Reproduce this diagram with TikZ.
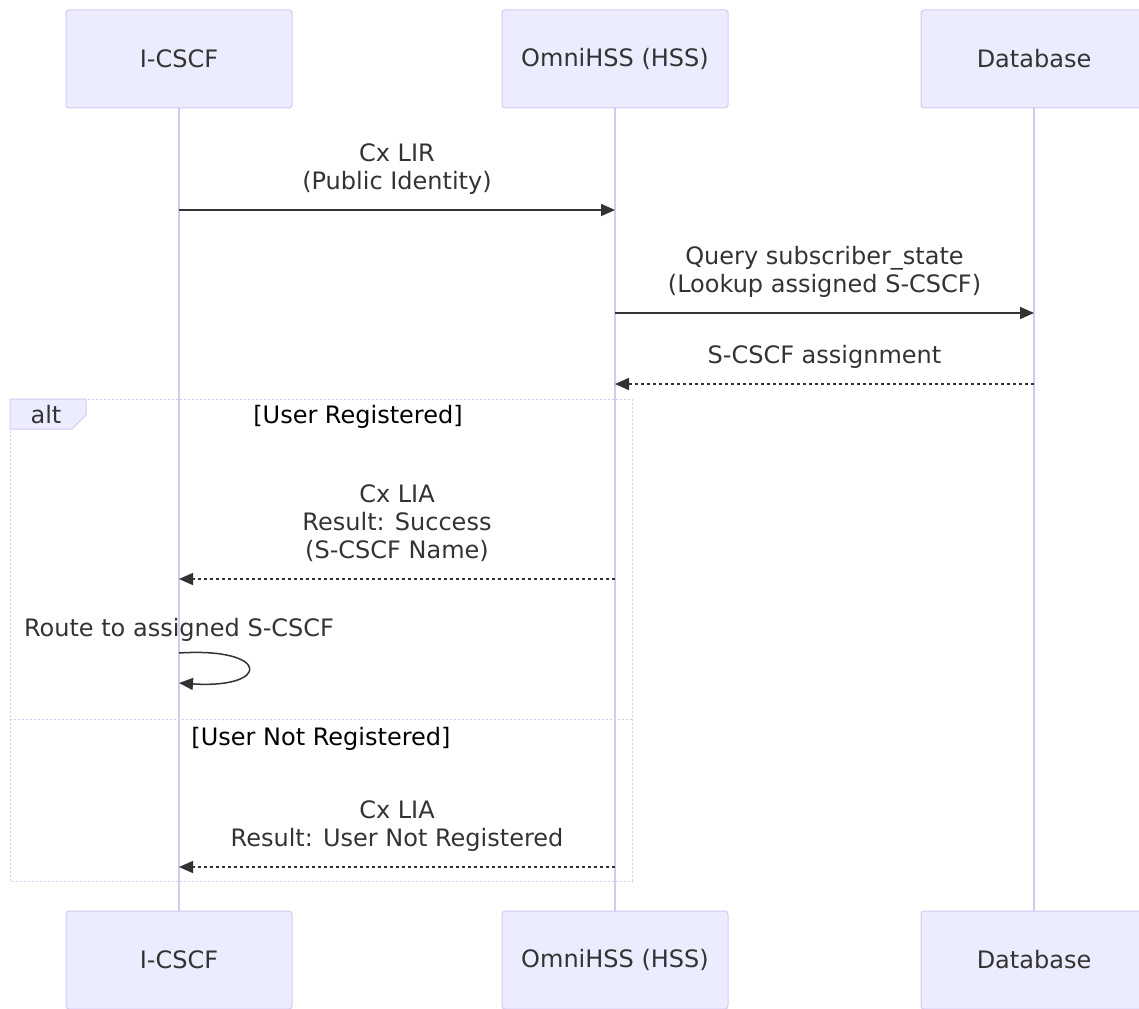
\documentclass[tikz,border=0pt]{standalone}
\usepackage{fontspec}
\setmainfont{DejaVu Sans}
\usetikzlibrary{arrows.meta, positioning, calc}
\definecolor{colActor}{RGB}{236,236,255}
\definecolor{colBorder}{RGB}{214,200,245}
\definecolor{colText}{RGB}{51,51,51}

\begin{document}
\begin{tikzpicture}[
  x=1pt, y=-1pt,
  actor/.style={draw=colBorder, fill=colActor, rounded corners=3pt, line width=1pt,
                minimum width=226pt, minimum height=98pt, text=colText,
                font=\fontsize{24}{28}\selectfont},
  life/.style={draw=colBorder, line width=1.5pt},
  msg/.style={-{Triangle[length=14pt, width=12pt]}, line width=1.5pt, colText},
  reply/.style={msg, dash pattern=on 3pt off 3pt},
  lbl/.style={font=\fontsize{24}{28}\selectfont, text=colText, align=center, inner sep=0pt},
  msglbl/.style={lbl, above=11.5pt, execute at end node=\strut},
  frame/.style={draw=colBorder, line width=1pt, dash pattern=on 2pt off 2pt},
]
\useasboundingbox (0,0) rectangle (1139,1008);

% Actors (top and bottom) with lifelines
\foreach \n/\t/\x in {icscf/I-CSCF/179, hss/OmniHSS (HSS)/615, db/Database/1034} {
  \node[actor] (\n) at (\x,59) {\t};
  \node[actor] (\n-b) at (\x,960) {\t};
  \draw[life] (\n) -- (\n-b);
}

% Rows of the messages
\foreach \r/\y in {1/210, 2/313, 3/384, 4/579, 5/653, 6/683, 7/867} {
  \coordinate (row\r) at (0,\y);
}

% Alt frame
\draw[frame] (10,399) rectangle (632,881);
\draw[frame] (10,719) -- (632,719);
\filldraw[draw=colBorder, fill=colActor, line width=1pt]
  (10,399) -- (86,399) -- (86,415) -- (72,429) -- (10,429) -- cycle;
\node[lbl, anchor=base] (alt) at (46,423) {alt};
\node[lbl, anchor=base, text=black] (reg) at (358,423) {[User Registered]};
\node[lbl, anchor=base, text=black] (notreg) at (321,745) {[User Not Registered]};

% Messages
\draw[msg] (icscf |- row1) -- node[msglbl] {Cx LIR\\(Public Identity)} (hss |- row1);
\draw[msg] (hss |- row2) -- node[msglbl] {Query subscriber\_state\\(Lookup assigned S-CSCF)} (db |- row2);
\draw[reply] (db |- row3) -- node[msglbl] {S-CSCF assignment} (hss |- row3);
\draw[reply] (hss |- row4) -- node[msglbl] {Cx LIA\\Result: Success\\(S-CSCF Name)} (icscf |- row4);

% Self message
\coordinate (r1) at (icscf |- row5);
\coordinate (r2) at (icscf |- row6);
\node[lbl, anchor=base] (route) at ([yshift=17pt]r1) {Route to assigned S-CSCF};
\draw[msg] (r1) .. controls +(92,-6) and +(92,6) .. (r2);

\draw[reply] (hss |- row7) -- node[msglbl] {Cx LIA\\Result: User Not Registered} (icscf |- row7);

\end{tikzpicture}
\end{document}
